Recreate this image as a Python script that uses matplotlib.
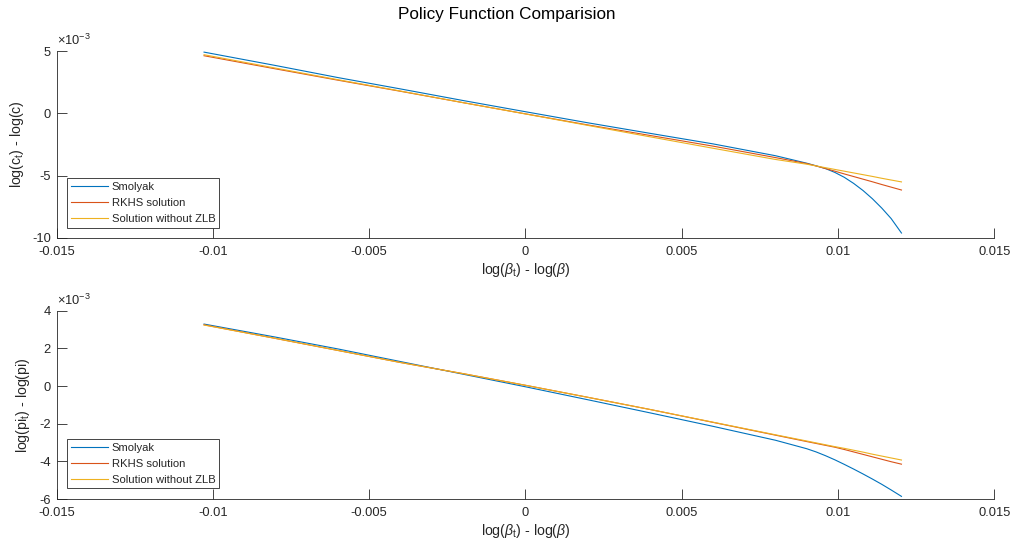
import numpy as np
import matplotlib
matplotlib.use("Agg")
import matplotlib.pyplot as plt
from matplotlib.ticker import FixedLocator, FuncFormatter

plt.rcParams['font.family'] = ['Liberation Sans', 'DejaVu Sans']
plt.rcParams['mathtext.fontset'] = 'custom'
plt.rcParams['mathtext.rm'] = 'Liberation Sans'
plt.rcParams['mathtext.it'] = 'Liberation Sans:italic'
plt.rcParams['axes.unicode_minus'] = False

# ---------------- data ----------------
beta_dev = [-0.01028, -0.008, -0.006, -0.004, -0.002, 0.0, 0.002, 0.004, 0.006,
            0.008, 0.009, 0.0093, 0.0096, 0.0099, 0.0102, 0.0105, 0.0108,
            0.0111, 0.0114, 0.0117, 0.01203]

# consumption deviations (x 1e-3)
c_smolyak = [4.91, 3.84, 2.87, 1.96, 1.03, 0.13, -0.76, -1.61, -2.45, -3.40,
             -4.00, -4.21, -4.43, -4.74, -5.13, -5.62, -6.19, -6.85, -7.60,
             -8.44, -9.60]
c_rkhs = [4.62, 3.57, 2.66, 1.77, 0.86, -0.04, -0.93, -1.78, -2.63, -3.55,
          -4.03, -4.22, -4.43, -4.64, -4.86, -5.07, -5.28, -5.49, -5.71,
          -5.92, -6.15]
c_nozlb = [4.70, 3.63, 2.70, 1.79, 0.86, -0.05, -0.97, -1.89, -2.80, -3.70,
           -4.08, -4.22, -4.36, -4.50, -4.64, -4.78, -4.92, -5.06, -5.21,
           -5.35, -5.50]

# inflation deviations (x 1e-3)
pi_smolyak = [3.29, 2.60, 1.97, 1.30, 0.63, -0.04, -0.73, -1.43, -2.14, -2.88,
              -3.33, -3.50, -3.70, -3.92, -4.16, -4.41, -4.67, -4.94, -5.22,
              -5.52, -5.86]
pi_rkhs = [3.25, 2.53, 1.89, 1.25, 0.66, 0.04, -0.60, -1.25, -1.93, -2.61,
           -2.95, -3.05, -3.15, -3.25, -3.37, -3.50, -3.63, -3.76, -3.89,
           -4.02, -4.15]
pi_nozlb = [3.24, 2.53, 1.89, 1.25, 0.66, 0.04, -0.60, -1.25, -1.92, -2.59,
            -2.92, -3.02, -3.12, -3.22, -3.31, -3.41, -3.51, -3.62, -3.72,
            -3.82, -3.93]

scale = 1e-3
series_names = ['Smolyak', 'RKHS solution', 'Solution without ZLB']

x_ticks = [-0.015, -0.01, -0.005, 0, 0.005, 0.01, 0.015]
x_tick_labels = ['-0.015', '-0.01', '-0.005', '0', '0.005', '0.01', '0.015']
c_yticks = [-10, -5, 0, 5]
pi_yticks = [-6, -4, -2, 0, 2, 4]

colors = [(0.0, 0.447, 0.741), (0.850, 0.325, 0.098), (0.929, 0.694, 0.125)]
axcol = (0.15, 0.15, 0.15)

fig = plt.figure(figsize=(10.13, 5.45), dpi=100)

L, W = 56.5 / 1013, (994.3 - 56.5) / 1013
ax1 = fig.add_axes([L, 1 - 238 / 545, W, (238 - 51) / 545])
ax2 = fig.add_axes([L, 1 - 499 / 545, W, (499 - 310.7) / 545])

panels = [
    (ax1, [c_smolyak, c_rkhs, c_nozlb], c_yticks,
     r'log(c$_\mathregular{t}$) - log(c)', -0.042),
    (ax2, [pi_smolyak, pi_rkhs, pi_nozlb], pi_yticks,
     r'log(pi$_\mathregular{t}$) - log(pi)', -0.036),
]

x = np.array(beta_dev)
for ax, ys, yt, ylab, ylx in panels:
    for y, col, name in zip(ys, colors, series_names):
        ax.plot(x, np.array(y) * scale, color=col, lw=0.8, label=name)
    ax.set_xlim(x_ticks[0], x_ticks[-1])
    ax.set_ylim(yt[0] * scale, yt[-1] * scale)
    ax.xaxis.set_major_locator(FixedLocator(x_ticks))
    ax.set_xticklabels(x_tick_labels)
    ax.yaxis.set_major_locator(FixedLocator([v * scale for v in yt]))
    ax.yaxis.set_major_formatter(FuncFormatter(lambda v, p: '%g' % round(v / scale, 6)))
    for s in ['top', 'right']:
        ax.spines[s].set_visible(False)
    for s in ['left', 'bottom']:
        ax.spines[s].set_color(axcol)
        ax.spines[s].set_linewidth(0.6)
    ax.tick_params(direction='in', length=7, width=0.6, colors=axcol,
                   labelsize=9.3, labelcolor=axcol)
    ax.tick_params(axis='x', pad=6)
    ax.tick_params(axis='y', pad=4)
    ax.set_ylabel(ylab, fontsize=10.2, color=axcol, va='center')
    ax.yaxis.set_label_coords(ylx, 0.5)
    ax.set_xlabel(r'log($\beta_\mathregular{t}$) - log($\beta$)', fontsize=10.2,
                  color=axcol, va='center')
    ax.xaxis.set_label_coords(0.5, -0.172)
    ax.text(0.0, 1.015, r'$\times$10$^{\mathregular{-3}}$', transform=ax.transAxes,
            ha='left', va='bottom', fontsize=9.3, color=axcol)
    leg = ax.legend(loc='lower left', bbox_to_anchor=(0.0115, 0.056),
                    borderaxespad=0, fontsize=8.1, frameon=True, fancybox=False,
                    edgecolor=axcol, framealpha=1, handlelength=3.3,
                    handletextpad=0.3, labelspacing=0.5, borderpad=0.35)
    leg.get_frame().set_linewidth(0.6)
    for t in leg.get_texts():
        t.set_color(axcol)

fig.text(0.5, 1 - 15 / 545, 'Policy Function Comparision', ha='center',
         va='center', fontsize=12.3)

fig.savefig('out.png', dpi=100)
